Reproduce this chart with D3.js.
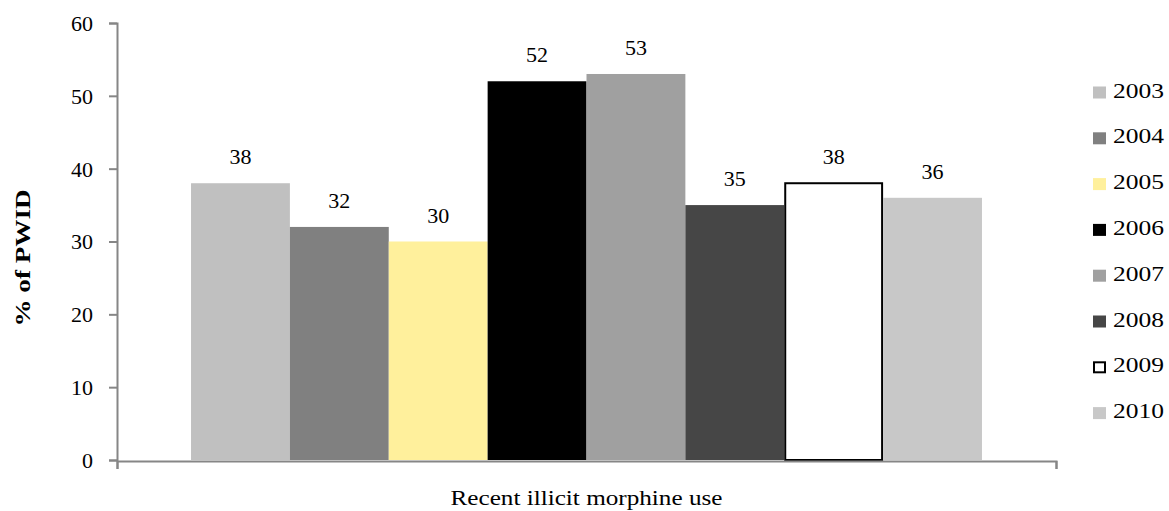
<!DOCTYPE html>
<html><head><meta charset="utf-8">
<script src="https://cdn.jsdelivr.net/npm/d3@7"></script>
<style>body{margin:0;background:#fff}svg{display:block}</style>
</head><body><svg id="c" width="1169" height="511"></svg>
<script>
const categories = ["Recent illicit morphine use"];
const years = ["2003","2004","2005","2006","2007","2008","2009","2010"];
const values = [38,32,30,52,53,35,38,36];
const colors = ["#c0c0c0","#808080","#fff09c","#000000","#a0a0a0","#464646","#ffffff","#c8c8c8"];
const yTicks = [0,10,20,30,40,50,60];

const FONT = "'Liberation Serif', 'Times New Roman', Times, 'DejaVu Serif', serif";
const svg = d3.select("#c");
const m = {l:117, r:1056, t:23, b:460};
const y = d3.scaleLinear().domain([0,60]).range([m.b, m.t]);
const x0 = d3.scaleBand().domain(categories).range([m.l, m.r]).paddingInner(0).paddingOuter(0.0936);
const x1 = d3.scaleBand().domain(years).range([0, x0.bandwidth()]).padding(0);

const axisColor = "#868686";
// y axis
const ya = svg.append("g").attr("transform",`translate(${m.l},0)`)
  .call(d3.axisLeft(y).tickValues(yTicks).tickSize(8).tickPadding(16));
ya.attr("font-family", null);
ya.select(".domain").attr("stroke",axisColor).attr("stroke-width",2);
ya.selectAll(".tick line").attr("stroke",axisColor).attr("stroke-width",2);
ya.selectAll("text").style("font-family",FONT).style("font-size","22px").attr("fill","#000").attr("dy","0.34em");

// bars
const g = svg.append("g").attr("transform",`translate(${x0(categories[0])},0)`);
years.forEach((yr,i)=>{
  const is2009 = colors[i]==="#ffffff";
  g.append("rect")
    .attr("x", x1(yr) + (is2009?1:0))
    .attr("y", y(values[i]))
    .attr("width", x1.bandwidth() - (is2009?2:0))
    .attr("height", y(0)-y(values[i]))
    .attr("fill", colors[i])
    .attr("stroke", is2009 ? "#000" : "none")
    .attr("stroke-width", is2009 ? 2 : 0);
  g.append("text")
    .attr("x", x1(yr)+x1.bandwidth()/2)
    .attr("y", y(values[i])-19)
    .attr("text-anchor","middle").style("font-family",FONT).style("font-size","22px").attr("fill","#000")
    .text(values[i]);
});

// x axis
const xa = svg.append("g").attr("transform",`translate(0,${m.b+1})`)
  .call(d3.axisBottom(d3.scaleLinear().domain([0,1]).range([m.l,m.r])).tickValues([0,1]).tickSize(8).tickFormat(""));
xa.select(".domain").attr("stroke",axisColor).attr("stroke-width",2);
xa.selectAll(".tick line").attr("stroke",axisColor).attr("stroke-width",2);

svg.append("text").attr("x", x0(categories[0])+x0.bandwidth()/2).attr("y",505)
  .attr("text-anchor","middle").style("font-family",FONT).style("font-size","22px")
  .attr("textLength",272).attr("lengthAdjust","spacingAndGlyphs").attr("fill","#000").text(categories[0]);

svg.append("text").attr("transform",`translate(30,258) rotate(-90)`)
  .attr("text-anchor","middle").style("font-family",FONT).style("font-size","22px").attr("font-weight","bold")
  .attr("textLength",137).attr("lengthAdjust","spacingAndGlyphs").attr("fill","#000").text("% of PWID");

// legend
const lg = svg.append("g");
years.forEach((yr,i)=>{
  const cy = 92.5 + i*45.8;
  const is2009 = colors[i]==="#ffffff";
  lg.append("rect").attr("x",1093+(is2009?1:0)).attr("y",cy-6+(is2009?1:0))
    .attr("width",13-(is2009?2:0)).attr("height",12-(is2009?2:0))
    .attr("fill",colors[i]).attr("stroke",is2009?"#000":"none").attr("stroke-width",is2009?2:0);
  lg.append("text").attr("x",1113).attr("y",cy+5).style("font-family",FONT).style("font-size","22px")
    .attr("textLength",51).attr("lengthAdjust","spacingAndGlyphs").attr("fill","#000").text(yr);
});
</script></body></html>
